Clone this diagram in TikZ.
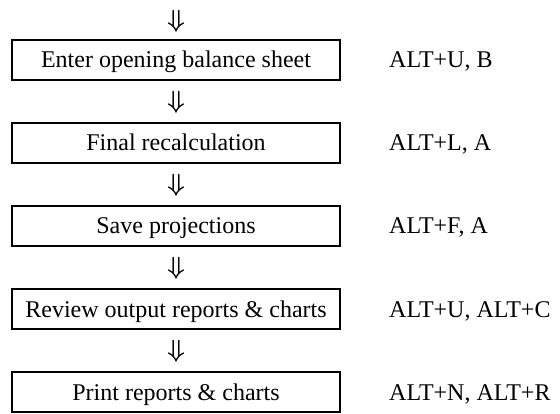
\documentclass[tikz,border=0pt]{standalone}
\usepackage{fontspec}
\setmainfont{Liberation Serif}
\begin{document}
\begin{tikzpicture}[x=1pt,y=-1pt,
  stepbox/.style={draw, line width=1.6pt, minimum width=328pt, minimum height=40pt,
    inner sep=0pt, text height=17pt, text depth=1pt, font=\fontsize{24}{28}\selectfont},
  keylabel/.style={anchor=base west, inner sep=0pt, font=\fontsize{24}{28}\selectfont},
  darrow/.style={inner sep=0pt, font=\fontsize{25}{28}\selectfont\boldmath}]
\useasboundingbox (0,0) rectangle (560,414);
\node[darrow] (a0) at (176,21) {$\Downarrow$};
\node[darrow] (a1) at (176,102) {$\Downarrow$};
\node[darrow] (a2) at (176,185) {$\Downarrow$};
\node[darrow] (a3) at (176,268) {$\Downarrow$};
\node[darrow] (a4) at (176,351) {$\Downarrow$};
\node[stepbox] (b1) at (176,60) {Enter opening balance sheet};
\node[stepbox] (b2) at (176,143) {Final recalculation};
\node[stepbox] (b3) at (176,226) {Save projections};
\node[stepbox] (b4) at (176,309) {Review output reports \& charts};
\node[stepbox] (b5) at (176,392) {Print reports \& charts};
\node[keylabel] (k1) at (389,68) {ALT+U, B};
\node[keylabel] (k2) at (389,151) {ALT+L, A};
\node[keylabel] (k3) at (389,234) {ALT+F, A};
\node[keylabel] (k4) at (389,317) {ALT+U, ALT+C};
\node[keylabel] (k5) at (389,400) {ALT+N, ALT+R};
\end{tikzpicture}
\end{document}
